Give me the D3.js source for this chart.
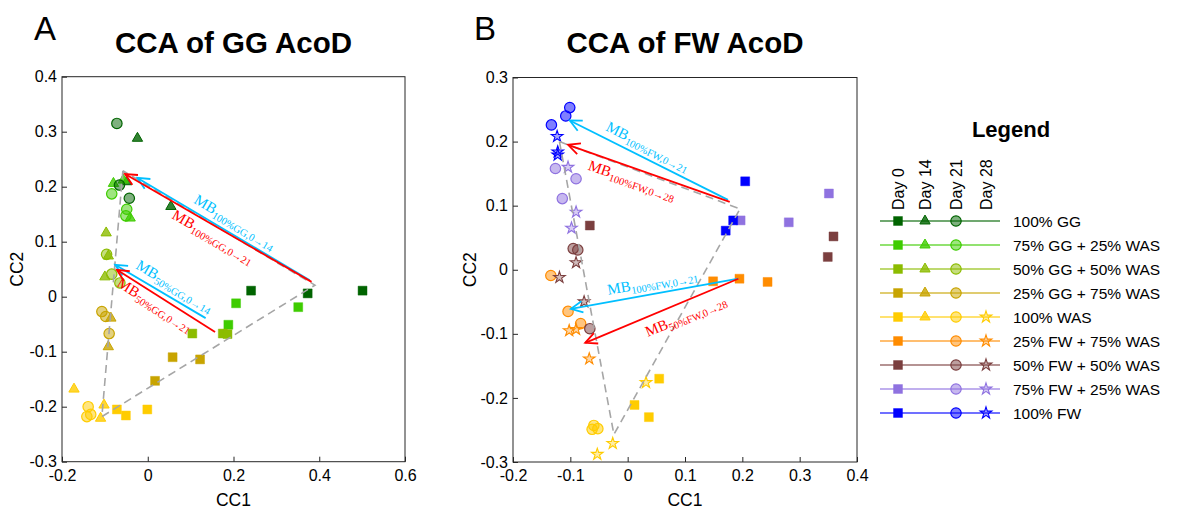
<!DOCTYPE html>
<html>
<head>
<meta charset="utf-8">
<script src="https://cdn.jsdelivr.net/npm/d3@7"></script>
<style>
body { margin: 0; background: #fff; }
text { font-family: Arial, "Liberation Sans", Helvetica, sans-serif; fill: #000; }
.mb { font-family: "Liberation Serif", "DejaVu Serif", serif; }
</style>
</head>
<body>
<svg id="chart"></svg>
<script>
"use strict";

// groups, in legend order
var groupNames = ["100% GG", "75% GG + 25% WAS", "50% GG + 50% WAS", "25% GG + 75% WAS", "100% WAS",
                  "25% FW + 75% WAS", "50% FW + 50% WAS", "75% FW + 25% WAS", "100% FW"];
var groupDays = [[0,14,21],[0,14,21],[0,14,21],[0,14,21],[0,14,21,28],[0,21,28],[0,21,28],[0,21,28],[0,21,28]];
var dayCodes = [0, 14, 21, 28];
var dayLabels = ["Day 0", "Day 14", "Day 21", "Day 28"];

// panel A (GG), points as [group, CC1, CC2]
var ggDay0 = [
  [0,0.241,0.011],[0,0.373,0.006],[0,0.501,0.011],
  [1,0.188,-0.051],[1,0.206,-0.012],[1,0.351,-0.019],
  [2,0.104,-0.067],[2,0.175,-0.067],[2,0.186,-0.068],
  [3,0.058,-0.110],[3,0.122,-0.114],[3,0.017,-0.153],
  [4,-0.072,-0.205],[4,-0.051,-0.216],[4,-0.001,-0.205]
];
var ggDay14 = [
  [0,-0.024,0.288],[0,0.054,0.164],[0,-0.049,0.209],
  [1,-0.080,0.206],[1,-0.057,0.212],[1,-0.041,0.143],
  [2,-0.097,0.116],[2,-0.092,0.074],[2,-0.100,0.036],
  [3,-0.086,-0.039],[3,-0.092,-0.091],
  [4,-0.172,-0.168],[4,-0.102,-0.197],[4,-0.110,-0.221]
];
var ggDay21 = [
  [0,-0.072,0.315],[0,-0.066,0.203],[0,-0.043,0.179],
  [1,-0.084,0.187],[1,-0.049,0.159],[1,-0.051,0.147],
  [2,-0.096,0.077],[2,-0.084,0.041],[2,-0.065,0.025],
  [3,-0.107,-0.027],[3,-0.098,-0.036],[3,-0.090,-0.067],
  [4,-0.139,-0.200],[4,-0.133,-0.214],[4,-0.142,-0.218]
];
var ggHull = [[-0.058,0.229],[-0.107,-0.218],[0.390,0.021]];
var ggArrowFrom = [[0.378,0.030],[0.382,0.027],[0.135,-0.039],[0.157,-0.064]];
var ggArrowTo = [[-0.024,0.216],[-0.053,0.223],[-0.076,0.058],[-0.072,0.049]];
var ggArrowSub = ["100%GG,0\u219214", "100%GG,0\u219221", "50%GG,0\u219214", "50%GG,0\u219221"];
var ggXTicks = [-0.2, 0, 0.2, 0.4, 0.6];
var ggYTicks = [-0.3, -0.2, -0.1, 0, 0.1, 0.2, 0.3, 0.4];

// panel B (FW)
var fwDay0 = [
  [4,0.055,-0.170],[4,0.012,-0.211],[4,0.037,-0.230],
  [5,0.149,-0.018],[5,0.195,-0.014],[5,0.244,-0.019],
  [6,-0.066,0.069],[6,0.359,0.052],[6,0.349,0.020],
  [7,0.197,0.077],[7,0.281,0.074],[7,0.351,0.119],
  [8,0.205,0.138],[8,0.184,0.077],[8,0.171,0.061]
];
var fwDay21 = [
  [4,-0.059,-0.243],[4,-0.052,-0.248],[4,-0.062,-0.249],
  [5,-0.134,-0.009],[5,-0.104,-0.065],[5,-0.082,-0.084],
  [6,-0.095,0.033],[6,-0.087,0.031],[6,-0.066,-0.092],
  [7,-0.126,0.158],[7,-0.090,0.142],[7,-0.114,0.111],
  [8,-0.101,0.253],[8,-0.108,0.240],[8,-0.133,0.226]
];
var fwDay28 = [
  [4,0.032,-0.176],[4,-0.026,-0.271],[4,-0.053,-0.288],
  [5,-0.102,-0.095],[5,-0.090,-0.093],[5,-0.067,-0.139],
  [6,-0.090,0.011],[6,-0.119,-0.012],[6,-0.076,-0.050],
  [7,-0.104,0.160],[7,-0.090,0.090],[7,-0.098,0.065],
  [8,-0.123,0.208],[8,-0.122,0.184],[8,-0.122,0.179]
];
var fwHull = [[-0.119,0.200],[-0.024,-0.257],[0.196,0.095]];
var fwArrowFrom = [[0.175,0.109],[0.178,0.106],[0.193,-0.014],[0.193,-0.014]];
var fwArrowTo = [[-0.101,0.233],[-0.104,0.195],[-0.099,-0.061],[-0.074,-0.114]];
var fwArrowSub = ["100%FW,0\u219221", "100%FW,0\u219228", "100%FW,0\u219221", "50%FW,0\u219228"];
var fwXTicks = [-0.2, -0.1, 0, 0.1, 0.2, 0.3, 0.4];
var fwYTicks = [-0.3, -0.2, -0.1, 0, 0.1, 0.2, 0.3];

// styles
var groupColors = ["#006400", "#3ecc00", "#8cbc00", "#c8a400", "#ffcc00", "#ff8c00", "#7b3f3f", "#8f72e0", "#0000ff"];
var arrowColors = ["#00bfff", "#ff0000"];
var symbolFor = {0: d3.symbolSquare, 14: d3.symbolTriangle, 21: d3.symbolCircle, 28: d3.symbolStar};
var symbolSize = {0: 80, 14: 46, 21: 85, 28: 42};

var W = 1187, H = 513;
var svg = d3.select("#chart").attr("width", W).attr("height", H);
svg.append("rect").attr("width", W).attr("height", H).attr("fill", "#fff");

var fmt = function(d) { return String(+d.toFixed(1)); };

function styleMarker(sel, day, color) {
  sel.attr("fill", color).attr("stroke", color);
  if (day == 0) sel.attr("stroke-opacity", 0.45).attr("stroke-width", 1);
  else if (day == 14) sel.attr("fill-opacity", 0.8).attr("stroke-width", 1);
  else if (day == 21) sel.attr("fill-opacity", 0.5).attr("stroke-width", 1.2);
  else sel.attr("fill-opacity", 0.35).attr("stroke-width", 1.1);
}

function drawPanel(p) {
  var x = d3.scaleLinear().domain(p.xDomain).range([p.left, p.right]);
  var y = d3.scaleLinear().domain(p.yDomain).range([p.bottom, p.top]);
  var g = svg.append("g");

  var ax = g.append("g").attr("transform", "translate(0," + p.bottom + ")")
    .call(d3.axisBottom(x).tickValues(p.xTicks).tickSize(-5).tickSizeOuter(0).tickPadding(8).tickFormat(fmt));
  var ay = g.append("g").attr("transform", "translate(" + p.left + ",0)")
    .call(d3.axisLeft(y).tickValues(p.yTicks).tickSize(-5).tickSizeOuter(0).tickPadding(5).tickFormat(fmt));
  [ax, ay].forEach(function(a) {
    a.select(".domain").remove();
    a.selectAll("line").attr("stroke", "#262626");
    a.selectAll("text").attr("font-size", 16).attr("fill", "#262626").attr("font-family", "Arial, 'Liberation Sans', sans-serif");
  });
  g.append("rect").attr("x", p.left).attr("y", p.top)
    .attr("width", p.right - p.left).attr("height", p.bottom - p.top)
    .attr("fill", "none").attr("stroke", "#262626").attr("stroke-width", 1);

  // points
  p.days.forEach(function(pts, k) {
    var day = p.dayCodes[k];
    g.selectAll(null).data(pts).enter().append("path")
      .attr("d", d3.symbol(symbolFor[day], symbolSize[day])())
      .attr("transform", function(d) { return "translate(" + x(d[1]) + "," + y(d[2]) + ")"; })
      .each(function(d) { styleMarker(d3.select(this), day, groupColors[d[0]]); });
  });

  // dashed triangle
  var line = d3.line().x(function(d) { return x(d[0]); }).y(function(d) { return y(d[1]); });
  g.append("path").attr("d", line(p.hull.concat([p.hull[0]])))
    .attr("fill", "none").attr("stroke", "#a6a6a6").attr("stroke-width", 1.6).attr("stroke-dasharray", "8,5");

  // arrows
  p.from.forEach(function(f, i) {
    var c = arrowColors[i % 2];
    var sx = x(f[0]), sy = y(f[1]), tx = x(p.to[i][0]), ty = y(p.to[i][1]);
    var back = Math.atan2(sy - ty, sx - tx);
    g.append("line").attr("x1", sx).attr("y1", sy).attr("x2", tx).attr("y2", ty)
      .attr("stroke", c).attr("stroke-width", 1.8);
    var L = 13, a = 0.45;
    var wing = [[tx + L * Math.cos(back - a), ty + L * Math.sin(back - a)], [tx, ty], [tx + L * Math.cos(back + a), ty + L * Math.sin(back + a)]];
    g.append("path").attr("d", d3.line()(wing)).attr("fill", "none")
      .attr("stroke", c).attr("stroke-width", 1.8);

    var lp = p.labelPos[i];
    var cx = tx + lp[0] * (sx - tx), cy = ty + lp[0] * (sy - ty);
    cx += lp[1] * -Math.sin(back); cy += lp[1] * Math.cos(back);
    var t = g.append("text").attr("class", "mb")
      .attr("transform", "translate(" + cx + "," + cy + ") rotate(" + (back * 180 / Math.PI) + ")")
      .attr("text-anchor", "middle").attr("dy", "0.3em").style("fill", c);
    t.append("tspan").attr("font-size", 15).text("MB");
    t.append("tspan").attr("font-size", 10.5).attr("dy", 3.5).text(p.sub[i]);
  });

  // titles
  var mid = (p.left + p.right) / 2;
  svg.append("text").attr("x", mid).attr("y", 53).attr("text-anchor", "middle")
    .attr("font-size", 29.5).attr("font-weight", "bold").text(p.title);
  svg.append("text").attr("x", p.letterX).attr("y", 40).attr("font-size", 33).text(p.letter);
  svg.append("text").attr("x", mid).attr("y", 506).attr("text-anchor", "middle")
    .attr("font-size", 17.5).attr("fill", "#262626").text("CC1");
  svg.append("text").attr("transform", "translate(" + p.yLabelX + "," + ((p.top + p.bottom) / 2) + ") rotate(-90)")
    .attr("text-anchor", "middle").attr("font-size", 17.5).attr("fill", "#262626").text("CC2");
}

drawPanel({
  left: 62, right: 405, top: 76.7, bottom: 461.7,
  xDomain: [-0.2, 0.6], yDomain: [-0.3, 0.4], xTicks: ggXTicks, yTicks: ggYTicks,
  days: [ggDay0, ggDay14, ggDay21], dayCodes: [0, 14, 21],
  hull: ggHull, from: ggArrowFrom, to: ggArrowTo, sub: ggArrowSub,
  labelPos: [[0.53, -12], [0.5, 10], [0.59, -12], [0.44, 9]],
  title: "CCA of GG AcoD", letter: "A", letterX: 34, yLabelX: 23
});

drawPanel({
  left: 513, right: 857, top: 77.5, bottom: 462,
  xDomain: [-0.2, 0.4], yDomain: [-0.3, 0.3], xTicks: fwXTicks, yTicks: fwYTicks,
  days: [fwDay0, fwDay21, fwDay28], dayCodes: [0, 21, 28],
  hull: fwHull, from: fwArrowFrom, to: fwArrowTo, sub: fwArrowSub,
  labelPos: [[0.46, -12], [0.42, 12], [0.5, -12], [0.62, 14]],
  title: "CCA of FW AcoD", letter: "B", letterX: 474, yLabelX: 476
});

// legend
var colX = [898, 925, 956, 986];
var rowY0 = 221, rowStep = 24;
var leg = svg.append("g");
leg.append("text").attr("x", 1011).attr("y", 137).attr("text-anchor", "middle")
  .attr("font-size", 22).attr("font-weight", "bold").text("Legend");
dayLabels.forEach(function(lbl, j) {
  leg.append("text").attr("transform", "translate(" + colX[j] + ",210) rotate(-90)")
    .attr("dominant-baseline", "central").attr("font-size", 16).text(lbl);
});
groupNames.forEach(function(name, i) {
  var yy = rowY0 + i * rowStep, col = groupColors[i];
  leg.append("line").attr("x1", 880).attr("x2", 1000).attr("y1", yy).attr("y2", yy)
    .attr("stroke", col).attr("stroke-width", 1.5).attr("stroke-opacity", 0.75);
  groupDays[i].forEach(function(day) {
    var j = dayCodes.indexOf(day);
    leg.append("path").attr("d", d3.symbol(symbolFor[day], symbolSize[day])())
      .attr("transform", "translate(" + colX[j] + "," + yy + ")")
      .call(styleMarker, day, col);
  });
  leg.append("text").attr("x", 1013).attr("y", yy).attr("dominant-baseline", "central")
    .attr("font-size", 15.5).text(name);
});
</script>
</body>
</html>
